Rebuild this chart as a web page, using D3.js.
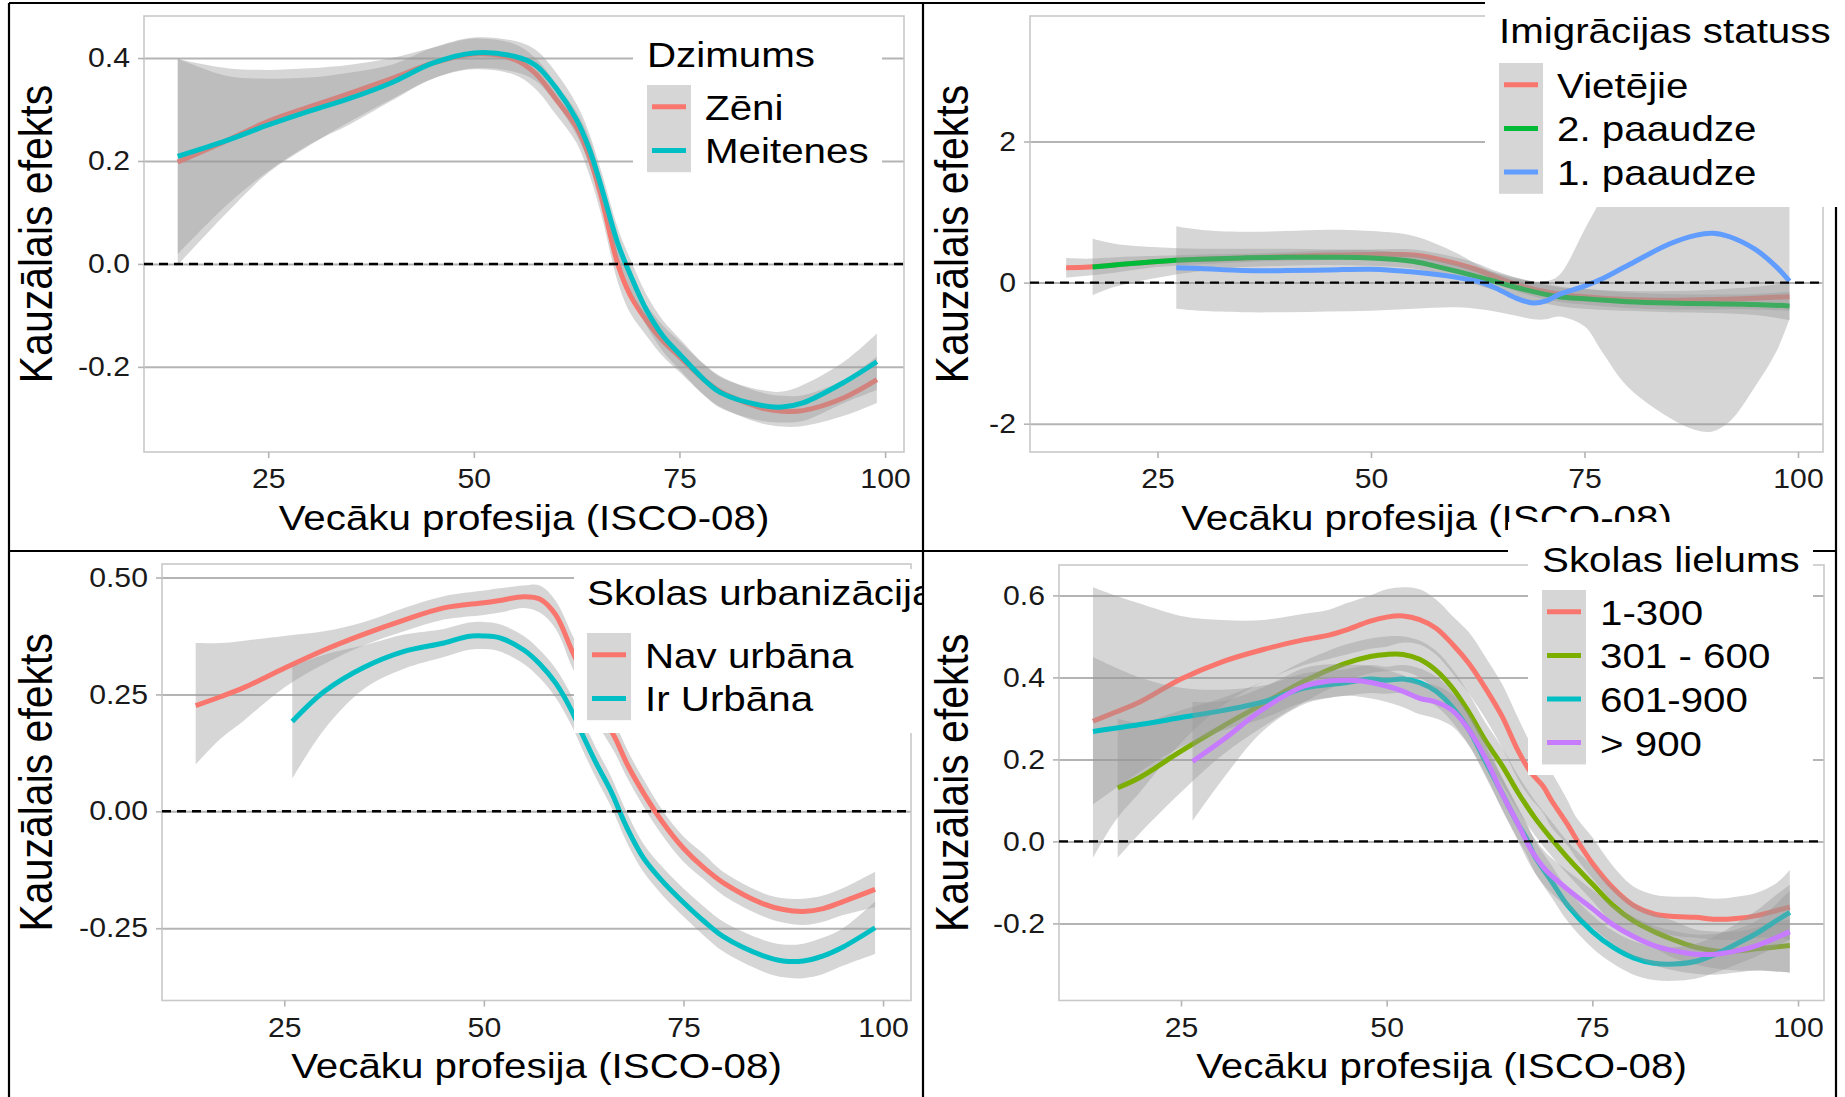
<!DOCTYPE html>
<html>
<head>
<meta charset="utf-8">
<script src="https://cdn.jsdelivr.net/npm/d3@7"></script>
<style>
  body { margin: 0; background: #fff; }
  svg { display: block; font-family: "Liberation Sans", Arial, sans-serif; }
</style>
</head>
<body>
<svg id="chart" width="1845" height="1097"></svg>
<script>
// ---- data ----
let xTicks = [25, 50, 75, 100];

// panel 1 - Dzimums
let p1Names = ["Zēni", "Meitenes"];
let p1Colors = ["#F8766D", "#00BFC4"];
let p1YTicks = [-0.2, 0, 0.2, 0.4];
let zeniX   = [14, 20, 25, 30, 35, 40, 45, 50, 55, 57.5, 60, 62.5, 64, 65.5, 67.5, 69, 71, 73, 75, 78, 80, 85, 87.5, 90, 95, 99];
let zeniFit = [0.198, 0.24, 0.277, 0.305, 0.332, 0.36, 0.39, 0.408, 0.397, 0.37, 0.32, 0.265, 0.21, 0.13, 0.0, -0.06, -0.11, -0.15, -0.18, -0.225, -0.248, -0.28, -0.286, -0.285, -0.26, -0.225];
let zeniLo  = [-0.002, 0.10, 0.177, 0.23, 0.277, 0.32, 0.36, 0.378, 0.367, 0.34, 0.29, 0.235, 0.175, 0.095, -0.035, -0.095, -0.14, -0.18, -0.21, -0.255, -0.278, -0.31, -0.316, -0.315, -0.295, -0.27];
let zeniHi  = [0.398, 0.38, 0.377, 0.38, 0.387, 0.40, 0.42, 0.438, 0.427, 0.40, 0.35, 0.295, 0.245, 0.165, 0.035, -0.025, -0.08, -0.12, -0.15, -0.195, -0.218, -0.25, -0.256, -0.255, -0.225, -0.18];
let meitX   = zeniX;
let meitFit = [0.209, 0.24, 0.27, 0.297, 0.322, 0.352, 0.39, 0.41, 0.403, 0.386, 0.342, 0.28, 0.225, 0.15, 0.04, -0.02, -0.09, -0.14, -0.175, -0.225, -0.25, -0.275, -0.278, -0.27, -0.23, -0.19];
let meitLo  = [0.019, 0.115, 0.18, 0.232, 0.272, 0.317, 0.36, 0.38, 0.373, 0.356, 0.312, 0.25, 0.195, 0.12, 0.01, -0.05, -0.12, -0.17, -0.205, -0.255, -0.28, -0.305, -0.308, -0.305, -0.27, -0.245];
let meitHi  = [0.399, 0.365, 0.36, 0.362, 0.372, 0.387, 0.42, 0.44, 0.433, 0.416, 0.372, 0.31, 0.255, 0.18, 0.07, 0.01, -0.06, -0.11, -0.145, -0.195, -0.22, -0.245, -0.248, -0.235, -0.19, -0.135];

// panel 2 - Imigrācijas statuss
let p2Names = ["Vietējie", "2. paaudze", "1. paaudze"];
let p2Colors = ["#F8766D", "#00BA38", "#619CFF"];
let p2YTicks = [-2, 0, 2];
let vietX   = [14.3, 17, 20, 25, 30, 35, 40, 45, 50, 55, 58, 62, 65, 68, 72, 75, 80, 85, 90, 95, 99];
let vietFit = [0.21, 0.22, 0.25, 0.30, 0.33, 0.35, 0.37, 0.39, 0.40, 0.39, 0.33, 0.20, 0.06, -0.06, -0.16, -0.20, -0.24, -0.25, -0.24, -0.22, -0.20];
let vietLo  = [0.07, 0.10, 0.14, 0.22, 0.26, 0.29, 0.31, 0.32, 0.33, 0.31, 0.25, 0.11, -0.03, -0.16, -0.27, -0.31, -0.36, -0.38, -0.38, -0.38, -0.40];
let vietHi  = [0.35, 0.34, 0.36, 0.38, 0.40, 0.41, 0.43, 0.46, 0.47, 0.47, 0.41, 0.29, 0.15, 0.04, -0.05, -0.09, -0.12, -0.12, -0.10, -0.06, 0.00];
let paa2X   = [17.4, 20, 25, 30, 35, 40, 45, 50, 55, 58, 62, 65, 68, 72, 75, 80, 85, 90, 95, 99];
let paa2Fit = [0.22, 0.25, 0.30, 0.33, 0.35, 0.36, 0.36, 0.35, 0.30, 0.22, 0.10, 0.00, -0.10, -0.20, -0.23, -0.27, -0.29, -0.30, -0.31, -0.33];
let paa2Lo  = [-0.18, -0.06, 0.07, 0.16, 0.22, 0.24, 0.25, 0.24, 0.20, 0.12, -0.02, -0.13, -0.24, -0.33, -0.37, -0.40, -0.42, -0.43, -0.46, -0.53];
let paa2Hi  = [0.62, 0.55, 0.50, 0.48, 0.48, 0.48, 0.47, 0.46, 0.40, 0.32, 0.22, 0.13, 0.04, -0.07, -0.09, -0.14, -0.16, -0.17, -0.16, -0.13];
let paa1X   = [27.2, 30, 35, 40, 45, 50, 55, 60, 63, 65, 67, 69, 70.5, 72, 75, 77, 80, 85, 88, 90, 92, 95, 97.5, 99];
let paa1Fit = [0.21, 0.20, 0.17, 0.17, 0.18, 0.19, 0.15, 0.075, 0.0, -0.10, -0.22, -0.29, -0.26, -0.17, -0.05, 0.05, 0.24, 0.55, 0.67, 0.70, 0.65, 0.47, 0.22, 0.02];
let paa1Lo  = [-0.37, -0.40, -0.42, -0.42, -0.41, -0.40, -0.37, -0.35, -0.38, -0.42, -0.47, -0.52, -0.52, -0.48, -0.62, -0.97, -1.47, -1.92, -2.09, -2.11, -1.97, -1.47, -0.97, -0.52];
let paa1Hi  = [0.80, 0.75, 0.72, 0.73, 0.75, 0.73, 0.66, 0.42, 0.22, 0.12, 0.05, 0.02, 0.02, 0.10, 0.75, 1.2, 1.9, 3.0, 3.4, 3.5, 3.3, 2.4, 2.0, 1.2];

// panel 3 - Skolas urbanizācija
let p3Names = ["Nav urbāna", "Ir Urbāna"];
let p3Colors = ["#F8766D", "#00BFC4"];
let p3YTicks = [-0.25, 0, 0.25, 0.5];
let navX   = [13.9, 17, 20, 25, 30, 35, 40, 45, 50, 52, 55, 57, 59, 61, 62.5, 64, 66.4, 68, 70, 72.5, 75, 77.5, 80, 85, 87.5, 90, 92.5, 95, 99];
let navFit = [0.226, 0.245, 0.265, 0.306, 0.345, 0.379, 0.409, 0.435, 0.446, 0.451, 0.459, 0.454, 0.42, 0.345, 0.29, 0.23, 0.158, 0.099, 0.039, -0.026, -0.079, -0.12, -0.153, -0.198, -0.21, -0.214, -0.208, -0.193, -0.167];
let navLo  = [0.10, 0.155, 0.195, 0.265, 0.315, 0.355, 0.385, 0.41, 0.42, 0.425, 0.435, 0.425, 0.39, 0.31, 0.255, 0.195, 0.125, 0.07, 0.01, -0.055, -0.108, -0.145, -0.18, -0.225, -0.238, -0.243, -0.236, -0.222, -0.205];
let navHi  = [0.36, 0.36, 0.365, 0.375, 0.385, 0.405, 0.435, 0.46, 0.472, 0.477, 0.483, 0.483, 0.45, 0.38, 0.325, 0.265, 0.19, 0.13, 0.068, -0.001, -0.054, -0.091, -0.13, -0.175, -0.186, -0.187, -0.18, -0.164, -0.129];
let urbX   = [26, 30, 35, 40, 45, 48, 50, 52, 55, 57, 59, 61, 62.4, 64, 66, 67, 68, 70, 72.5, 75, 77.5, 80, 85, 87.5, 90, 92.5, 95, 99];
let urbFit = [0.192, 0.256, 0.308, 0.342, 0.36, 0.374, 0.375, 0.371, 0.345, 0.315, 0.274, 0.215, 0.162, 0.105, 0.04, 0.0, -0.038, -0.10, -0.152, -0.195, -0.234, -0.268, -0.309, -0.32, -0.32, -0.309, -0.29, -0.249];
let urbLo  = [0.07, 0.175, 0.262, 0.305, 0.33, 0.345, 0.347, 0.342, 0.315, 0.285, 0.243, 0.183, 0.13, 0.073, 0.008, -0.032, -0.07, -0.13, -0.182, -0.225, -0.265, -0.30, -0.343, -0.355, -0.357, -0.348, -0.33, -0.305];
let urbHi  = [0.31, 0.335, 0.355, 0.378, 0.39, 0.403, 0.405, 0.40, 0.375, 0.345, 0.305, 0.247, 0.194, 0.137, 0.072, 0.032, -0.006, -0.07, -0.122, -0.165, -0.203, -0.236, -0.275, -0.285, -0.283, -0.27, -0.25, -0.193];

// panel 4 - Skolas lielums
let p4Names = ["1-300", "301 - 600", "601-900", "> 900"];
let p4Colors = ["#F8766D", "#7CAE00", "#00BFC4", "#C77CFF"];
let p4YTicks = [-0.2, 0, 0.2, 0.4, 0.6];
let s1X   = [14.3, 17, 20, 25, 30, 35, 40, 43, 45, 48, 50, 52, 54, 56, 58, 60, 62, 64, 66, 67.5, 69, 70, 72, 73, 75, 77.5, 80, 82.5, 85, 87.5, 90, 92.5, 95, 97.5, 99];
let s1Fit = [0.293, 0.315, 0.34, 0.396, 0.438, 0.468, 0.492, 0.503, 0.515, 0.537, 0.547, 0.55, 0.541, 0.52, 0.481, 0.434, 0.374, 0.306, 0.22, 0.169, 0.135, 0.101, 0.041, 0.007, -0.053, -0.113, -0.156, -0.177, -0.183, -0.185, -0.19, -0.188, -0.181, -0.168, -0.16];
let s1Lo  = [-0.04, 0.05, 0.12, 0.24, 0.33, 0.39, 0.43, 0.445, 0.455, 0.47, 0.475, 0.485, 0.48, 0.455, 0.41, 0.36, 0.30, 0.23, 0.15, 0.105, 0.07, 0.035, -0.01, -0.04, -0.09, -0.15, -0.20, -0.22, -0.23, -0.235, -0.24, -0.24, -0.235, -0.235, -0.24];
let s1Hi  = [0.62, 0.60, 0.58, 0.55, 0.54, 0.54, 0.555, 0.565, 0.58, 0.60, 0.615, 0.62, 0.615, 0.59, 0.55, 0.51, 0.45, 0.385, 0.30, 0.24, 0.20, 0.17, 0.10, 0.06, 0.01, -0.06, -0.11, -0.13, -0.135, -0.135, -0.14, -0.135, -0.125, -0.10, -0.07];
let s2X   = [17.3, 20, 25, 30, 35, 40, 45, 48, 50, 52, 54, 56, 58, 60, 62, 64, 66, 68, 70, 72, 75, 77.5, 80, 82.5, 85, 87.5, 90, 92.5, 95, 99];
let s2Fit = [0.131, 0.156, 0.22, 0.28, 0.336, 0.391, 0.434, 0.451, 0.456, 0.456, 0.444, 0.417, 0.374, 0.315, 0.246, 0.186, 0.118, 0.058, 0.007, -0.04, -0.104, -0.156, -0.194, -0.22, -0.241, -0.258, -0.267, -0.267, -0.262, -0.254];
let s2Lo  = [-0.04, 0.02, 0.12, 0.21, 0.28, 0.34, 0.39, 0.41, 0.415, 0.415, 0.40, 0.37, 0.33, 0.27, 0.20, 0.14, 0.075, 0.015, -0.035, -0.08, -0.145, -0.20, -0.235, -0.26, -0.285, -0.30, -0.31, -0.315, -0.315, -0.32];
let s2Hi  = [0.30, 0.29, 0.32, 0.35, 0.39, 0.44, 0.48, 0.495, 0.50, 0.50, 0.49, 0.465, 0.42, 0.36, 0.29, 0.23, 0.16, 0.10, 0.05, 0.00, -0.06, -0.11, -0.15, -0.175, -0.195, -0.215, -0.22, -0.22, -0.21, -0.19];
let s3X   = [14.3, 20, 25, 30, 35, 40, 45, 48, 50, 52, 54, 56, 58, 60, 62, 64, 66, 67, 68, 70, 72, 75, 77.5, 80, 82.5, 85, 87.5, 90, 92.5, 95, 97, 99];
let s3Fit = [0.268, 0.285, 0.302, 0.319, 0.34, 0.374, 0.387, 0.396, 0.393, 0.396, 0.387, 0.366, 0.327, 0.272, 0.195, 0.118, 0.041, 0.007, -0.036, -0.096, -0.156, -0.22, -0.258, -0.284, -0.297, -0.299, -0.293, -0.275, -0.25, -0.224, -0.198, -0.173];
let s3Lo  = [0.09, 0.17, 0.23, 0.27, 0.30, 0.34, 0.355, 0.362, 0.36, 0.362, 0.352, 0.33, 0.29, 0.235, 0.158, 0.08, 0.003, -0.032, -0.075, -0.135, -0.195, -0.26, -0.298, -0.325, -0.338, -0.34, -0.335, -0.32, -0.30, -0.28, -0.26, -0.24];
let s3Hi  = [0.45, 0.40, 0.375, 0.37, 0.38, 0.41, 0.42, 0.43, 0.426, 0.43, 0.422, 0.402, 0.364, 0.31, 0.232, 0.156, 0.079, 0.046, 0.003, -0.057, -0.117, -0.18, -0.218, -0.243, -0.256, -0.258, -0.25, -0.23, -0.20, -0.168, -0.136, -0.106];
let s4X   = [26.4, 30, 35, 40, 43, 45, 47, 50, 52, 54, 56, 58, 60, 62, 64, 66, 67.5, 69, 70, 72, 75, 77.5, 80, 82.5, 85, 87.5, 90, 92.5, 95, 99];
let s4Fit = [0.195, 0.246, 0.323, 0.379, 0.391, 0.393, 0.391, 0.379, 0.366, 0.349, 0.34, 0.319, 0.272, 0.203, 0.118, 0.041, -0.019, -0.062, -0.083, -0.117, -0.164, -0.203, -0.232, -0.254, -0.267, -0.275, -0.275, -0.267, -0.254, -0.22];
let s4Lo  = [0.05, 0.15, 0.27, 0.335, 0.35, 0.355, 0.352, 0.34, 0.327, 0.31, 0.30, 0.28, 0.233, 0.163, 0.078, 0.0, -0.06, -0.104, -0.126, -0.162, -0.21, -0.25, -0.28, -0.302, -0.315, -0.323, -0.325, -0.32, -0.315, -0.32];
let s4Hi  = [0.34, 0.342, 0.376, 0.423, 0.432, 0.431, 0.43, 0.418, 0.405, 0.388, 0.38, 0.358, 0.311, 0.243, 0.158, 0.082, 0.022, -0.02, -0.04, -0.072, -0.118, -0.156, -0.184, -0.206, -0.219, -0.227, -0.225, -0.214, -0.193, -0.12];

// ---- drawing ----
const SX = 1.12;            // the picture is a bit wider than the fonts
const GRID = "#b4b4b4";
const BORDER = "#c9c9c9";
const YTITLE = "Kauzālais efekts";
const XTITLE = "Vecāku profesija (ISCO-08)";

let svg = d3.select("#chart");

function series(xs, fit, lo, hi) {
    return xs.map(function(v, i) { return {x: v, y: fit[i], lo: lo[i], hi: hi[i]}; });
}

function drawPanel(p) {
    let g = svg.append("g");
    let x = d3.scaleLinear().domain(p.xDom).range([p.left, p.right]);
    let y = d3.scaleLinear().domain(p.yDom).range([p.bottom, p.top]);
    let w = p.right - p.left;

    //gridlines
    g.append("g")
        .attr("transform", "translate(" + p.left + ",0)")
        .call(d3.axisLeft(y).tickValues(p.yTicks).tickSize(-w).tickFormat(""))
        .call(a => a.select(".domain").remove())
        .selectAll("line").attr("stroke", GRID).attr("stroke-width", 2);

    //panel border
    g.append("rect")
        .attr("x", p.left).attr("y", p.top)
        .attr("width", w).attr("height", p.bottom - p.top)
        .attr("fill", "none").attr("stroke", BORDER).attr("stroke-width", 1.6);

    //y axis ticks + labels
    let ya = g.append("g")
        .attr("transform", "translate(" + p.left + ",0)")
        .call(d3.axisLeft(y).tickValues(p.yTicks).tickSize(6).tickPadding(6.5).tickFormat(p.fmt));
    ya.select(".domain").remove();
    ya.selectAll("line").attr("stroke", GRID).attr("stroke-width", 1.6);
    ya.selectAll("text").attr("font-size", 27).attr("fill", "#1a1a1a")
        .attr("font-family", "Liberation Sans, Arial, sans-serif")
        .attr("transform", "scale(" + SX + ",1)");

    //x axis
    let xa = g.append("g")
        .attr("transform", "translate(0," + p.bottom + ")")
        .call(d3.axisBottom(x).tickValues(xTicks).tickSize(6).tickPadding(11));
    xa.select(".domain").remove();
    xa.selectAll("line").attr("stroke", GRID).attr("stroke-width", 1.6);
    xa.selectAll("text").attr("font-size", 27).attr("fill", "#1a1a1a")
        .attr("font-family", "Liberation Sans, Arial, sans-serif")
        .attr("transform", "scale(" + SX + ",1)");

    //smooth ribbons and lines, one group after the other like ggplot
    let curve = d3.curveCatmullRom.alpha(0.5);
    let area = d3.area().x(d => x(d.x)).y0(d => y(d.lo)).y1(d => y(d.hi)).curve(curve);
    let line = d3.line().x(d => x(d.x)).y(d => y(d.y)).curve(curve);
    p.data.forEach(function(s, i) {
        g.append("path").datum(s).attr("d", area)
            .attr("fill", "#999999").attr("fill-opacity", 0.4);
        g.append("path").datum(s).attr("d", line)
            .attr("fill", "none").attr("stroke", p.colors[i]).attr("stroke-width", 5)
            .attr("stroke-linejoin", "round");
    });

    //dashed zero line
    g.append("line")
        .attr("x1", p.left).attr("x2", p.right)
        .attr("y1", y(0)).attr("y2", y(0))
        .attr("stroke", "#000").attr("stroke-width", 2.4)
        .attr("stroke-dasharray", "9,6");

    //axis titles
    g.append("text")
        .attr("transform", "translate(" + (p.left + w / 2) + "," + p.xTitleY + ") scale(" + SX + ",1)")
        .attr("text-anchor", "middle")
        .attr("font-size", 36)
        .text(XTITLE);

    g.append("text")
        .attr("transform", "translate(" + p.yTitleX + "," + ((p.top + p.bottom) / 2) + ") rotate(-90) scale(1," + SX + ")")
        .attr("text-anchor", "middle")
        .attr("font-size", 41)
        .text(YTITLE);
}

function drawLegend(l) {
    let g = svg.append("g");
    if (l.clip) {
        svg.append("clipPath").attr("id", l.clip.id)
            .append("rect").attr("x", 0).attr("y", 0).attr("width", l.clip.maxX).attr("height", 1097);
        g.attr("clip-path", "url(#" + l.clip.id + ")");
    }
    l.boxes.forEach(function(b) {
        g.append("rect").attr("x", b[0]).attr("y", b[1])
            .attr("width", b[2] - b[0]).attr("height", b[3] - b[1])
            .attr("fill", "#fff");
    });
    g.append("text")
        .attr("transform", "translate(" + l.x + "," + l.titleY + ") scale(" + SX + ",1)")
        .attr("font-size", 36)
        .text(l.title);

    let keyH = 43.6;
    g.append("rect")
        .attr("x", l.x).attr("y", l.keyY)
        .attr("width", 44).attr("height", keyH * l.names.length)
        .attr("fill", "#999999").attr("fill-opacity", 0.4);
    l.names.forEach(function(n, i) {
        let cy = l.keyY + keyH * i + keyH / 2;
        g.append("line")
            .attr("x1", l.x + 5).attr("x2", l.x + 39)
            .attr("y1", cy).attr("y2", cy)
            .attr("stroke", l.colors[i]).attr("stroke-width", 5);
        g.append("text")
            .attr("transform", "translate(" + (l.x + 58) + "," + (cy + 13) + ") scale(" + SX + ",1)")
            .attr("font-size", 36)
            .text(n);
    });
}

let fmt1 = d => d.toFixed(1);
let fmt2 = d => d.toFixed(2);
let fmt0 = d => String(d);

drawPanel({left: 144, right: 904, top: 16, bottom: 452,
    xDom: [9.9, 102.3], yDom: [-0.3654, 0.4817], yTicks: p1YTicks, fmt: fmt1,
    xTitleY: 530, yTitleX: 52, colors: p1Colors,
    data: [series(zeniX, zeniFit, zeniLo, zeniHi), series(meitX, meitFit, meitLo, meitHi)]});

drawPanel({left: 1030, right: 1823, top: 16, bottom: 452,
    xDom: [10.07, 102.93], yDom: [-2.401, 3.779], yTicks: p2YTicks, fmt: fmt0,
    xTitleY: 530, yTitleX: 968, colors: p2Colors,
    data: [series(vietX, vietFit, vietLo, vietHi), series(paa2X, paa2Fit, paa2Lo, paa2Hi),
           series(paa1X, paa1Fit, paa1Lo, paa1Hi)]});

drawPanel({left: 162, right: 911, top: 564, bottom: 1000.5,
    xDom: [9.68, 103.5], yDom: [-0.4046, 0.5289], yTicks: p3YTicks, fmt: fmt2,
    xTitleY: 1078, yTitleX: 52, colors: p3Colors,
    data: [series(navX, navFit, navLo, navHi), series(urbX, urbFit, urbLo, urbHi)]});

drawPanel({left: 1059, right: 1824, top: 565, bottom: 1000.5,
    xDom: [10.17, 103.16], yDom: [-0.388, 0.6741], yTicks: p4YTicks, fmt: fmt1,
    xTitleY: 1078, yTitleX: 968, colors: p4Colors,
    data: [series(s1X, s1Fit, s1Lo, s1Hi), series(s2X, s2Fit, s2Lo, s2Hi),
           series(s3X, s3Fit, s3Lo, s3Hi), series(s4X, s4Fit, s4Lo, s4Hi)]});

drawLegend({title: "Dzimums", names: p1Names, colors: p1Colors,
    x: 647, titleY: 67, keyY: 85, boxes: [[633, 22, 882, 178]]});

drawLegend({title: "Skolas urbanizācija", names: p3Names, colors: p3Colors,
    x: 587, titleY: 605, keyY: 633, boxes: [[574, 569, 930, 733]],
    clip: {id: "cut3", maxX: 922}});

//black frame of the table the four plots sit in
let frame = [[9, 3, 1836, 3], [9, 3, 9, 1097], [1836, 3, 1836, 1097],
             [923, 3, 923, 1097], [9, 551, 1836, 551]];
frame.forEach(function(f) {
    svg.append("line")
        .attr("x1", f[0]).attr("y1", f[1]).attr("x2", f[2]).attr("y2", f[3])
        .attr("stroke", "#000").attr("stroke-width", 2.2);
});

drawLegend({title: "Imigrācijas statuss", names: p2Names, colors: p2Colors,
    x: 1499, titleY: 43, keyY: 63, boxes: [[1485, 0, 1845, 207]]});

drawLegend({title: "Skolas lielums", names: p4Names, colors: p4Colors,
    x: 1542, titleY: 572, keyY: 590, boxes: [[1508, 522, 1813, 552], [1528, 540, 1813, 775]]});
</script>
</body>
</html>
